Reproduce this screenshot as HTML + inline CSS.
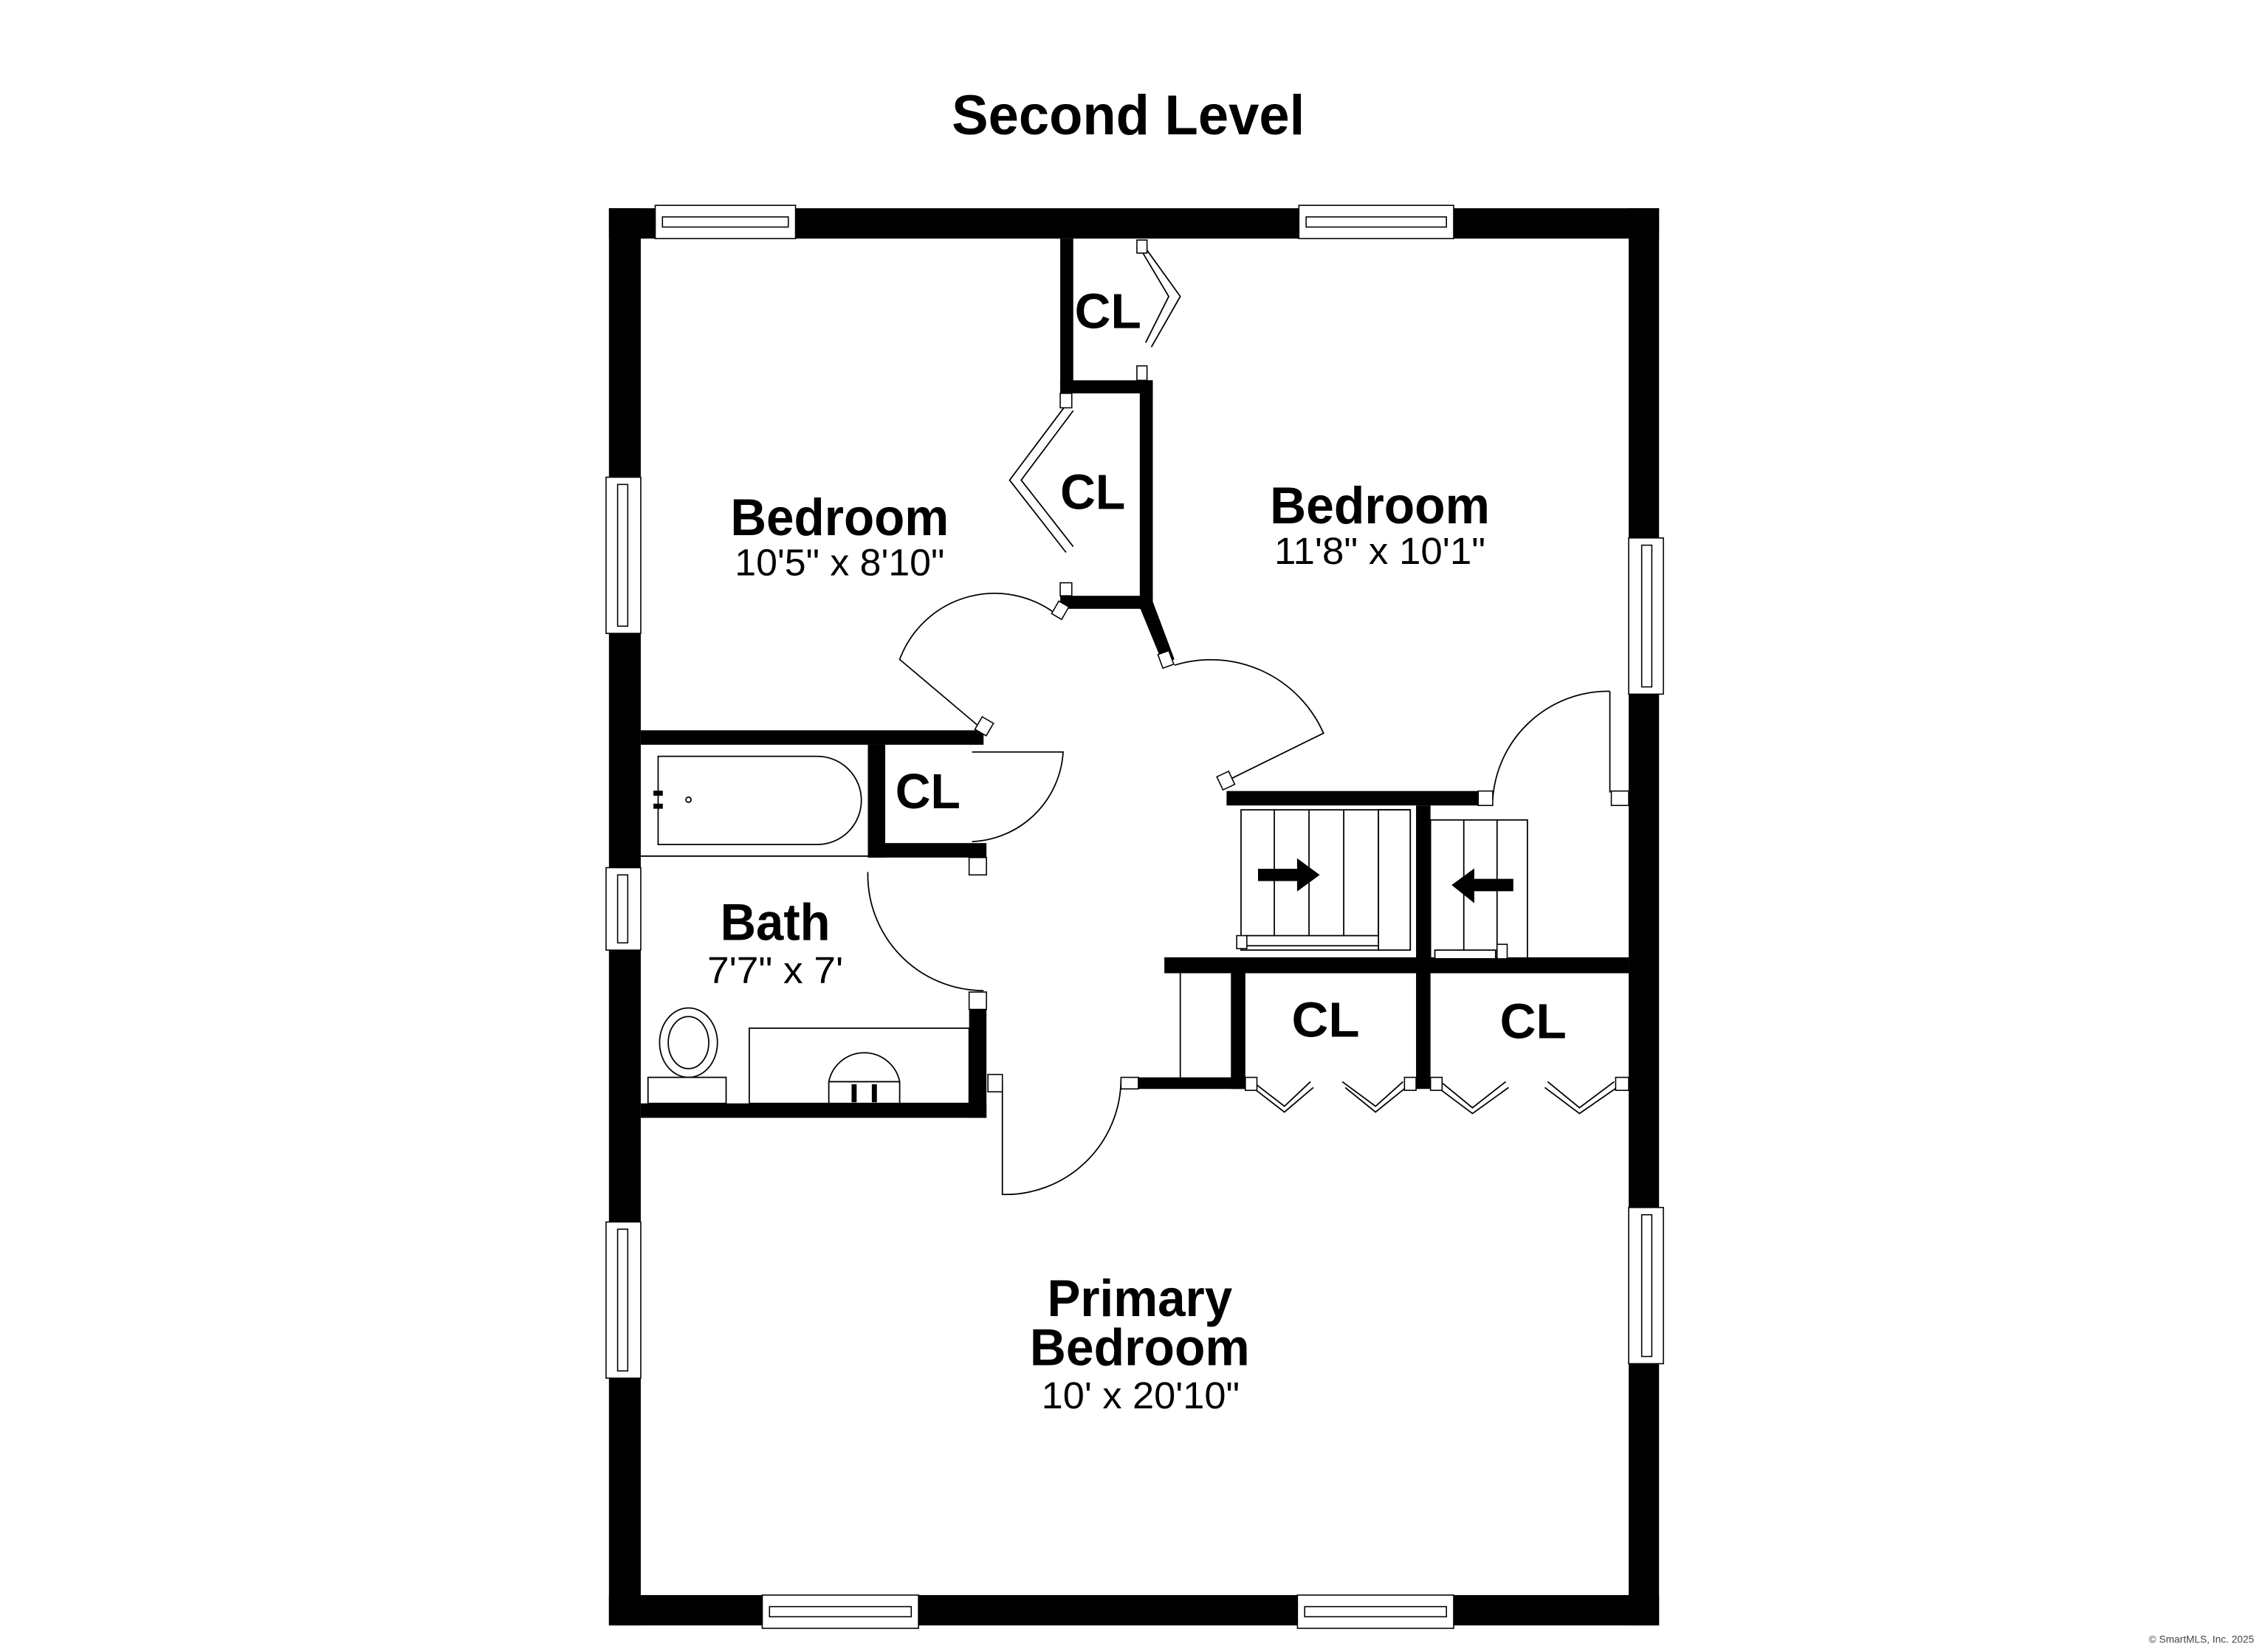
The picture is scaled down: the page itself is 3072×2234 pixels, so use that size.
<!DOCTYPE html>
<html><head><style>html,body{margin:0;padding:0;background:#fff}svg{display:block}</style></head>
<body>
<svg width="3072" height="2234" viewBox="0 0 1568 1140.3" preserveAspectRatio="none" xmlns="http://www.w3.org/2000/svg" font-family="Liberation Sans, Arial, sans-serif">
<rect width="1568" height="1141" fill="#fff"/>
<text x="658" y="93" font-size="39" font-weight="bold" textLength="244" lengthAdjust="spacingAndGlyphs">Second Level</text>
<!-- outer walls -->
<g fill="#000">
<rect x="421" y="144" width="726" height="21"/>
<rect x="421" y="1103" width="726" height="21"/>
<rect x="421" y="144" width="22" height="980"/>
<rect x="1126" y="144" width="21" height="980"/>
<!-- interior -->
<rect x="733" y="165" width="9" height="107"/>
<rect x="733" y="263" width="64" height="9"/>
<rect x="788" y="263" width="9" height="158"/>
<rect x="733" y="412" width="64" height="9"/>
<polygon points="788,420 797,416 812,456 804,459"/>
<rect x="443" y="505" width="237" height="10"/>
<rect x="600" y="515" width="12" height="78"/>
<rect x="600" y="583" width="82" height="10"/>
<rect x="670" y="698" width="12" height="75"/>
<rect x="443" y="763" width="239" height="10"/>
<rect x="848" y="547" width="174" height="10"/>
<rect x="979" y="557" width="10" height="196"/>
<rect x="805" y="662" width="321" height="11"/>
<rect x="851" y="673" width="10" height="80"/>
<rect x="787" y="745" width="74" height="8"/>
</g>
<!-- windows -->
<g fill="#fff" stroke="#000" stroke-width="0.8">
<rect x="453" y="142" width="97" height="23"/><rect x="458" y="150" width="87" height="7"/>
<rect x="898" y="142" width="107" height="23"/><rect x="903" y="150" width="97" height="7"/>
<rect x="527" y="1103" width="108" height="23"/><rect x="532" y="1111" width="98" height="7"/>
<rect x="897" y="1103" width="108" height="23"/><rect x="902" y="1111" width="98" height="7"/>
<rect x="419" y="330" width="24" height="108"/><rect x="427" y="335" width="7" height="98"/>
<rect x="419" y="600" width="24" height="57"/><rect x="427" y="605" width="7" height="47"/>
<rect x="419" y="845" width="24" height="108"/><rect x="427" y="850" width="7" height="98"/>
<rect x="1126" y="372" width="24" height="108"/><rect x="1135" y="377" width="7" height="98"/>
<rect x="1126" y="835" width="24" height="108"/><rect x="1135" y="840" width="7" height="98"/>
</g>
<!-- doors -->
<g fill="none" stroke="#000" stroke-width="0.9">
<path d="M733,427 A70,70 0 0 0 622,456 L680,505"/>
<path d="M812,460 A85,85 0 0 1 915,507 L848,540"/>
<path d="M672,520 L735,520 A66,66 0 0 1 672,582"/>
<path d="M600,603 A80,80 0 0 0 680,685"/>
<path d="M693,748 L693,826 A80,80 0 0 0 775,746"/>
<path d="M1113,478 A80,80 0 0 0 1032,553"/>
<line x1="1113" y1="478" x2="1113" y2="548"/>
<!-- bifold doors -->
<path d="M789,173 L808,205 L792,237 M793,173 L816,205 L796,240"/>
<path d="M737,280 L698,332 L737,382 M742,284 L706,332 L742,378"/>
<path d="M866,748 L888,765 L906,748 M866,752 L888,769 L908,752"/>
<path d="M928,748 L951,765 L970,748 M930,752 L951,769 L972,752"/>
<path d="M996,748 L1018,766 L1041,748 M994,752 L1018,770 L1043,752"/>
<path d="M1070,748 L1092,766 L1116,748 M1068,752 L1092,770 L1118,752"/>
<!-- stairs -->
<rect x="858" y="560" width="117" height="97"/>
<line x1="881" y1="560" x2="881" y2="650"/><line x1="905" y1="560" x2="905" y2="650"/><line x1="929" y1="560" x2="929" y2="650"/><line x1="953" y1="560" x2="953" y2="650"/>
<rect x="953" y="560" width="22" height="97" fill="#fff"/>
<rect x="989" y="567" width="67" height="98"/>
<line x1="1012" y1="567" x2="1012" y2="657"/><line x1="1035" y1="567" x2="1035" y2="665"/>
<rect x="861" y="647" width="92" height="7" fill="#fff"/>
<rect x="992" y="657" width="42" height="6" fill="#fff"/>
<line x1="816" y1="673" x2="816" y2="745"/>
<!-- bath fixtures -->
<path d="M455,523 L565,523 A30,30 0 0 1 565,584 L455,584 Z"/>
<line x1="443" y1="592" x2="600" y2="592"/>
<circle cx="476" cy="553" r="1.8"/>
<rect x="518" y="711" width="152" height="52"/>
<ellipse cx="476" cy="721" rx="20" ry="24"/><ellipse cx="476" cy="721" rx="14" ry="18"/>
<rect x="448" y="745" width="54" height="18" fill="#fff"/>
<path d="M573,763 L573,748 A25,25 0 0 1 622,748 L622,763"/>
<line x1="573" y1="748" x2="622" y2="748"/>
</g>
<g fill="#fff" stroke="#000" stroke-width="0.8">
<rect x="786" y="166" width="7" height="9"/><rect x="786" y="253" width="7" height="10"/>
<rect x="733" y="272" width="8" height="10"/><rect x="733" y="403" width="8" height="9"/>
<rect x="729" y="417" width="8" height="10" transform="rotate(30 733 422)"/>
<rect x="802" y="451" width="8" height="10" transform="rotate(-20 806 456)"/>
<rect x="676" y="497" width="9" height="10" transform="rotate(30 680 502)"/>
<rect x="843" y="535" width="9" height="10" transform="rotate(-25 847 540)"/>
<rect x="670" y="593" width="12" height="12"/><rect x="670" y="686" width="12" height="12"/>
<rect x="683" y="743" width="10" height="12"/><rect x="775" y="745" width="12" height="8"/>
<rect x="1022" y="547" width="10" height="10"/><rect x="1114" y="547" width="12" height="10"/>
<rect x="861" y="745" width="8" height="9"/><rect x="971" y="745" width="8" height="9"/>
<rect x="989" y="745" width="8" height="9"/><rect x="1117" y="745" width="9" height="9"/>
<rect x="855" y="647" width="7" height="9"/><rect x="1035" y="653" width="7" height="10"/>
</g>
<g fill="#000" stroke="#000" stroke-width="0.5">
<rect x="452" y="547" width="6" height="3"/><rect x="452" y="556" width="6" height="3"/>
<rect x="589" y="750" width="3" height="12"/><rect x="603" y="750" width="3" height="12"/>
<polygon points="870,601 897,601 897,594 912,605 897,616 897,609 870,609"/>
<polygon points="1046,608 1019,608 1019,601 1004,612 1019,624 1019,616 1046,616"/>
</g>
<g font-weight="bold" lengthAdjust="spacingAndGlyphs">
<text x="743" y="227" font-size="34" textLength="46" lengthAdjust="spacingAndGlyphs">CL</text>
<text x="733" y="352" font-size="34" textLength="45" lengthAdjust="spacingAndGlyphs">CL</text>
<text x="619" y="559" font-size="34" textLength="45" lengthAdjust="spacingAndGlyphs">CL</text>
<text x="893" y="717" font-size="34" textLength="47" lengthAdjust="spacingAndGlyphs">CL</text>
<text x="1037" y="718" font-size="34" textLength="46" lengthAdjust="spacingAndGlyphs">CL</text>
<text x="505" y="370" font-size="36" textLength="151" lengthAdjust="spacingAndGlyphs">Bedroom</text>
<text x="878" y="362" font-size="36" textLength="152" lengthAdjust="spacingAndGlyphs">Bedroom</text>
<text x="498" y="650" font-size="36" textLength="76" lengthAdjust="spacingAndGlyphs">Bath</text>
<text x="724" y="910" font-size="36" textLength="128" lengthAdjust="spacingAndGlyphs">Primary</text>
<text x="712" y="944" font-size="36" textLength="152" lengthAdjust="spacingAndGlyphs">Bedroom</text>
</g>
<g font-size="26">
<text x="508" y="398" textLength="145" lengthAdjust="spacingAndGlyphs">10'5" x 8'10"</text>
<text x="881" y="390" textLength="146" lengthAdjust="spacingAndGlyphs">11'8" x 10'1"</text>
<text x="489" y="680" textLength="94" lengthAdjust="spacingAndGlyphs">7'7" x 7'</text>
<text x="720" y="974" textLength="137" lengthAdjust="spacingAndGlyphs">10' x 20'10"</text>
</g>
<text x="1522" y="1136" font-size="7" fill="#444" text-anchor="middle">© SmartMLS, Inc. 2025</text>
</svg>
</body></html>
